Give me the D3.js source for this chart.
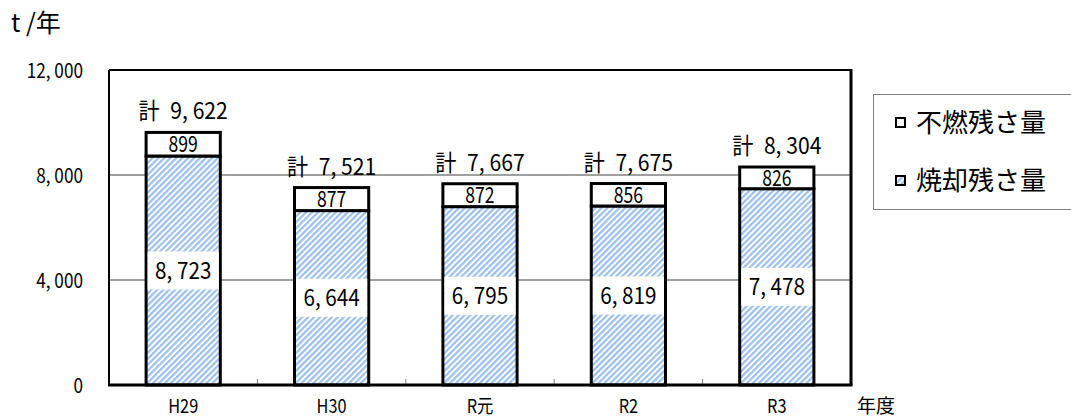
<html>
<head>
<meta charset="utf-8">
<script src="https://cdn.jsdelivr.net/npm/d3@7"></script>
<style>
  body { margin: 0; background: #fff; }
  text { font-family: "Noto Sans CJK JP", sans-serif; fill: #000; }
</style>
</head>
<body>
<div id="chart"></div>
<script>

// data
let years = ['H29', 'H30', 'R元', 'R2', 'R3'];
let funen = [899, 877, 872, 856, 826];          // 不燃残さ量
let shokyaku = [8723, 6644, 6795, 6819, 7478];  // 焼却残さ量
let totals = [9622, 7521, 7667, 7675, 8304];
let yTicks = [0, 4000, 8000, 12000];
let seriesNames = ['不燃残さ量', '焼却残さ量'];

let width = 1071;
let height = 419;
let plotLeft = 109, plotRight = 851, plotTop = 70, plotBottom = 385;

let fmt = v => d3.format(',')(v).replace(',', ', ');
// the original uses a condensed gothic, so squeeze the glyphs a bit
let at = (px, py, sx) => 'translate(' + px + ',' + py + ') scale(' + sx + ',1)';

let svg = d3.select('#chart')
    .append('svg')
    .attr('width', width)
    .attr('height', height);

let defs = svg.append('defs');
let pat = defs.append('pattern')
    .attr('id', 'stripe')
    .attr('patternUnits', 'userSpaceOnUse')
    .attr('width', 4.2)
    .attr('height', 4.2)
    .attr('patternTransform', 'rotate(45)');
pat.append('rect').attr('width', 4.2).attr('height', 4.2).attr('fill', '#fff');
pat.append('rect').attr('width', 2.3).attr('height', 4.2).attr('fill', '#a0c2ea');

let x = d3.scaleBand()
    .domain(years)
    .range([plotLeft, plotRight])
    .paddingInner(0.5)
    .paddingOuter(0.25);

let y = d3.scaleLinear()
    .domain([0, 12000])
    .range([plotBottom, plotTop]);

// grid
svg.append('g')
    .selectAll('line')
    .data(yTicks.filter(d => d > 0 && d < 12000))
    .join('line')
    .attr('x1', plotLeft).attr('x2', plotRight)
    .attr('y1', d => y(d)).attr('y2', d => y(d))
    .attr('stroke', '#808080')
    .attr('stroke-width', 1.5);

// category ticks
svg.append('g')
    .selectAll('line')
    .data(years.slice(1))
    .join('line')
    .attr('x1', d => x(d) - x.step() * x.paddingInner() / 2)
    .attr('x2', d => x(d) - x.step() * x.paddingInner() / 2)
    .attr('y1', plotBottom).attr('y2', plotBottom - 6)
    .attr('stroke', '#808080')
    .attr('stroke-width', 1);

// frame
svg.append('line').attr('x1', plotLeft).attr('x2', plotRight).attr('y1', plotTop).attr('y2', plotTop)
    .attr('stroke', '#000').attr('stroke-width', 2);
svg.append('line').attr('x1', plotLeft).attr('x2', plotLeft).attr('y1', plotTop).attr('y2', plotBottom)
    .attr('stroke', '#000').attr('stroke-width', 2);
svg.append('line').attr('x1', plotRight).attr('x2', plotRight).attr('y1', plotTop - 1).attr('y2', plotBottom)
    .attr('stroke', '#000').attr('stroke-width', 3);

// bars
let bars = svg.append('g');
let bw = x.bandwidth();

bars.selectAll('rect.shokyaku')
    .data(years)
    .join('rect')
    .attr('class', 'shokyaku')
    .attr('x', d => x(d))
    .attr('y', (d, i) => y(shokyaku[i]))
    .attr('width', bw)
    .attr('height', (d, i) => y(0) - y(shokyaku[i]))
    .attr('fill', 'url(#stripe)')
    .attr('stroke', '#000')
    .attr('stroke-width', 3);

bars.selectAll('rect.funen')
    .data(years)
    .join('rect')
    .attr('class', 'funen')
    .attr('x', d => x(d))
    .attr('y', (d, i) => y(shokyaku[i] + funen[i]))
    .attr('width', bw)
    .attr('height', (d, i) => y(shokyaku[i]) - y(shokyaku[i] + funen[i]))
    .attr('fill', '#fff')
    .attr('stroke', '#000')
    .attr('stroke-width', 3);

// label boxes for lower segment
bars.selectAll('rect.lblbox')
    .data(years)
    .join('rect')
    .attr('class', 'lblbox')
    .attr('x', d => x(d) + 1.5)
    .attr('y', (d, i) => (y(0) + y(shokyaku[i])) / 2 - 19)
    .attr('width', bw - 3)
    .attr('height', 38)
    .attr('fill', '#fff');

bars.selectAll('text.shokyaku')
    .data(years)
    .join('text')
    .attr('class', 'shokyaku')
    .attr('transform', (d, i) => at(x(d) + bw / 2, (y(0) + y(shokyaku[i])) / 2 + 8.5, 0.9))
    .attr('text-anchor', 'middle')
    .attr('font-size', 23)
    .text((d, i) => fmt(shokyaku[i]));

bars.selectAll('text.funen')
    .data(years)
    .join('text')
    .attr('class', 'funen')
    .attr('transform', (d, i) => at(x(d) + bw / 2, (y(shokyaku[i]) + y(shokyaku[i] + funen[i])) / 2 + 8, 0.8))
    .attr('text-anchor', 'middle')
    .attr('font-size', 22)
    .text((d, i) => funen[i]);

bars.selectAll('text.total')
    .data(years)
    .join('text')
    .attr('class', 'total')
    .attr('transform', (d, i) => at(x(d) + bw / 2, y(totals[i]) - 13, 0.92))
    .attr('text-anchor', 'middle')
    .attr('font-size', 23)
    .text((d, i) => '計\u2002' + fmt(totals[i]));

// baseline
svg.append('line').attr('x1', plotLeft - 1).attr('x2', plotRight + 1.5).attr('y1', plotBottom).attr('y2', plotBottom)
    .attr('stroke', '#000').attr('stroke-width', 3);

// y labels
svg.append('g')
    .selectAll('text')
    .data(yTicks)
    .join('text')
    .attr('transform', d => at(83, y(d) + 7.5, 0.86))
    .attr('text-anchor', 'end')
    .attr('font-size', 20)
    .text(d => fmt(d));

// x labels
svg.append('g')
    .selectAll('text')
    .data(years)
    .join('text')
    .attr('transform', d => at(x(d) + bw / 2, 413, 0.86))
    .attr('text-anchor', 'middle')
    .attr('font-size', 19)
    .text(d => d);

svg.append('text')
    .attr('x', 857).attr('y', 413)
    .attr('font-size', 19)
    .text('年度');

svg.append('text')
    .attr('x', 11).attr('y', 32)
    .attr('font-size', 25)
    .text('t /年');

// legend
let lg = svg.append('g');
lg.append('rect')
    .attr('x', 873.5).attr('y', 94.5)
    .attr('width', 210).attr('height', 115)
    .attr('fill', '#fff')
    .attr('stroke', '#808080')
    .attr('stroke-width', 1);

let legendFill = ['#fff', 'url(#stripe)'];
let li = lg.selectAll('g.item')
    .data(seriesNames)
    .join('g')
    .attr('class', 'item')
    .attr('transform', (d, i) => 'translate(0,' + (123 + i * 58) + ')');
li.append('rect')
    .attr('x', 896).attr('y', -5)
    .attr('width', 9).attr('height', 9)
    .attr('fill', (d, i) => legendFill[i])
    .attr('stroke', '#000')
    .attr('stroke-width', 2);
li.append('text')
    .attr('x', 916).attr('y', 9)
    .attr('font-size', 26)
    .text(d => d);

</script>
</body>
</html>
